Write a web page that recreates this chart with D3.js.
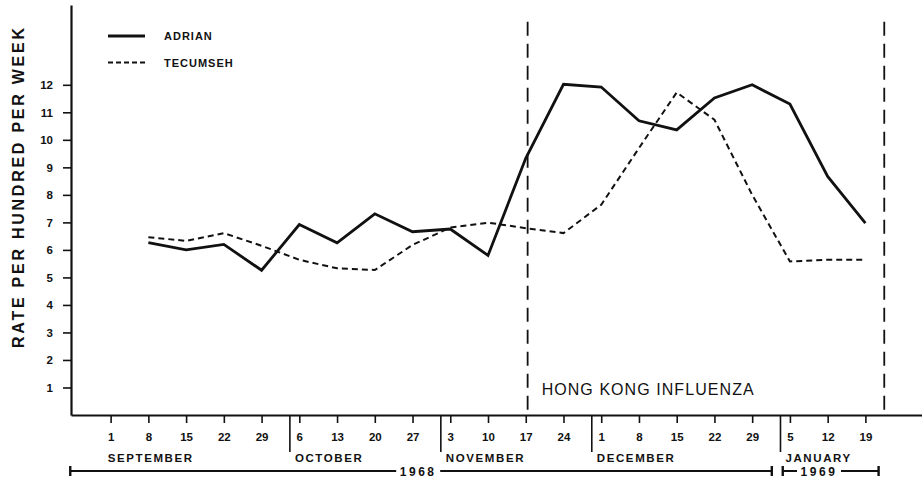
<!DOCTYPE html>
<html>
<head>
<meta charset="utf-8">
<script src="https://cdn.jsdelivr.net/npm/d3@7"></script>
<style>
  html, body { margin: 0; padding: 0; background: #fff; }
  svg { display: block; }
  text { font-family: "Liberation Sans", Arial, sans-serif; fill: #111; }
</style>
</head>
<body>
<svg id="chart" width="922" height="483"></svg>
<script>
// Weekly illness rate per hundred, Sept 1968 - Jan 1969 (week index 0 = Sept 1)
const weekIndex = d3.range(1, 21);
const adrian = [6.26, 6.0, 6.2, 5.26, 6.92, 6.26, 7.31, 6.66, 6.76, 5.8,
                9.33, 12.02, 11.92, 10.69, 10.36, 11.52, 12.0, 11.3, 8.67, 6.97];
const tecumseh = [6.46, 6.33, 6.61, 6.15, 5.64, 5.33, 5.27, 6.18, 6.81, 6.99,
                  6.79, 6.61, 7.64, 9.7, 11.72, 10.73, 8.0, 5.58, 5.64, 5.64];

// Axis labels
const dayLabels = ["1", "8", "15", "22", "29", "6", "13", "20", "27", "3", "10",
                   "17", "24", "1", "8", "15", "22", "29", "5", "12", "19"];
const yTicks = d3.range(1, 13);
const months = [
  { name: "SEPTEMBER", start: -0.05 },
  { name: "OCTOBER", start: 4.75 },
  { name: "NOVEMBER", start: 8.75 },
  { name: "DECEMBER", start: 12.75 },
  { name: "JANUARY", start: 17.75 }
];
const years = [
  { label: "1968", from: -1.07, to: 17.52, at: 8.15 },
  { label: "1969", from: 17.81, to: 20.35, at: 18.77 }
];
const epidemic = { label: "HONG KONG INFLUENZA", from: 11.05, to: 20.5 };
const legendItems = [
  { name: "ADRIAN", dash: null },
  { name: "TECUMSEH", dash: "5,3" }
];

const svg = d3.select("#chart");
const x = d3.scaleLinear().domain([-1.05, 21.5]).range([71, 922]);
const y = d3.scaleLinear().domain([0, 14.9]).range([415, 5]);

// Y axis
const yAxis = svg.append("g")
  .attr("transform", `translate(${x(-1.05)},0)`)
  .call(d3.axisLeft(y).tickValues(yTicks).tickSizeInner(8).tickSizeOuter(0).tickPadding(10));
yAxis.select(".domain").attr("stroke", "#111").attr("stroke-width", 2.2);
yAxis.selectAll(".tick line").attr("stroke", "#111").attr("stroke-width", 1.6);
yAxis.selectAll(".tick text")
  .attr("font-size", 11.5).attr("font-weight", "bold")
  .style("font-family", "'Liberation Sans', Arial, sans-serif").attr("fill", "#111");

// X axis
const xAxis = svg.append("g")
  .attr("transform", `translate(0,${y(0)})`)
  .call(d3.axisBottom(x).tickValues(d3.range(0, 21))
    .tickFormat(i => dayLabels[i]).tickSizeInner(8).tickSizeOuter(0).tickPadding(10));
xAxis.select(".domain").attr("stroke", "#111").attr("stroke-width", 2.2);
xAxis.selectAll(".tick line").attr("stroke", "#111").attr("stroke-width", 1.6);
xAxis.selectAll(".tick text")
  .attr("font-size", 11.5).attr("font-weight", "bold")
  .style("font-family", "'Liberation Sans', Arial, sans-serif").attr("fill", "#111");

// Month dividers and names
months.forEach((m, i) => {
  if (i > 0) {
    svg.append("line")
      .attr("x1", x(m.start)).attr("x2", x(m.start))
      .attr("y1", y(0)).attr("y2", y(0) + 37)
      .attr("stroke", "#111").attr("stroke-width", 1.6);
  }
  svg.append("text")
    .attr("x", i > 0 ? x(m.start) + 5 : x(m.start) - 1)
    .attr("y", y(0) + 46.5)
    .attr("font-size", 11.5).attr("font-weight", "bold")
    .attr("letter-spacing", 1.6)
    .text(m.name);
});

// Year brackets
years.forEach(yr => {
  const yy = y(0) + 56;
  const x0 = x(yr.from), x1 = x(yr.to), xc = x(yr.at);
  const half = 22;
  svg.append("line").attr("x1", x0).attr("x2", xc - half).attr("y1", yy).attr("y2", yy)
    .attr("stroke", "#111").attr("stroke-width", 2);
  svg.append("line").attr("x1", xc + half).attr("x2", x1).attr("y1", yy).attr("y2", yy)
    .attr("stroke", "#111").attr("stroke-width", 2);
  [x0, x1].forEach(xe => {
    svg.append("line").attr("x1", xe).attr("x2", xe).attr("y1", yy - 5).attr("y2", yy + 5)
      .attr("stroke", "#111").attr("stroke-width", 2.4);
  });
  svg.append("text")
    .attr("x", xc).attr("y", yy + 5)
    .attr("text-anchor", "middle")
    .attr("font-size", 12).attr("font-weight", "bold").attr("letter-spacing", 2.5)
    .text(yr.label);
});

// Epidemic period boundaries
[epidemic.from, epidemic.to].forEach(v => {
  svg.append("line")
    .attr("x1", x(v)).attr("x2", x(v))
    .attr("y1", y(14.29)).attr("y2", y(0))
    .attr("stroke", "#111").attr("stroke-width", 1.8)
    .attr("stroke-dasharray", "14,8");
});
svg.append("text")
  .attr("x", x(epidemic.from) + 14).attr("y", y(0) - 20)
  .attr("font-size", 16).attr("letter-spacing", 1)
  .attr("textLength", 213).attr("lengthAdjust", "spacing")
  .text(epidemic.label);

// Y axis title
svg.append("text")
  .attr("transform", `translate(23.5,${(28 + 348) / 2}) rotate(-90)`)
  .attr("text-anchor", "middle")
  .attr("font-size", 16).attr("font-weight", "bold")
  .attr("textLength", 320).attr("lengthAdjust", "spacing")
  .text("RATE PER HUNDRED PER WEEK");

// Series lines
const line = d3.line().x((d, i) => x(weekIndex[i])).y(d => y(d));
svg.append("path").datum(tecumseh)
  .attr("d", line).attr("fill", "none")
  .attr("stroke", "#111").attr("stroke-width", 2)
  .attr("stroke-dasharray", "6,4");
svg.append("path").datum(adrian)
  .attr("d", line).attr("fill", "none")
  .attr("stroke", "#111").attr("stroke-width", 2.8)
  .attr("stroke-linejoin", "miter");

// Legend
legendItems.forEach((item, i) => {
  const ly = 36 + i * 26.5;
  svg.append("line")
    .attr("x1", 108).attr("x2", 145).attr("y1", ly).attr("y2", ly)
    .attr("stroke", "#111").attr("stroke-width", item.dash ? 2 : 3)
    .attr("stroke-dasharray", item.dash);
  svg.append("text")
    .attr("x", 164).attr("y", ly + 4)
    .attr("font-size", 11).attr("font-weight", "bold").attr("letter-spacing", 1)
    .text(item.name);
});
</script>
</body>
</html>
